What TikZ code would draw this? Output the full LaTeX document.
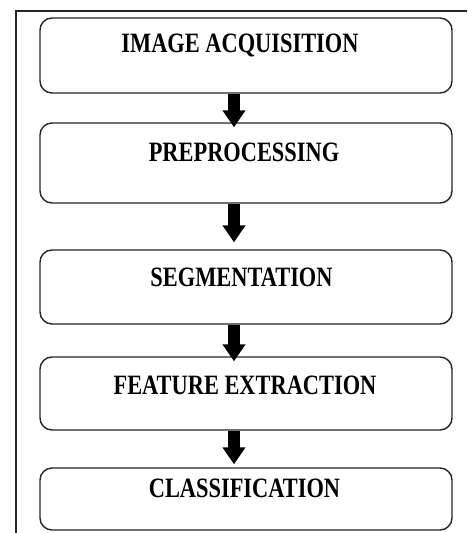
\documentclass[tikz,border=0pt]{standalone}
\usepackage{fontspec}
\usepackage{graphicx}
\setmainfont{Liberation Serif}
\usetikzlibrary{arrows.meta,calc}

\tikzset{
  frameline/.style={draw=black!85, line width=1.3pt},
  stagebox/.style={draw=black!85, line width=1.4pt, rounded corners=12pt,
    rectangle, minimum width=412pt, inner sep=0pt, fill=white},
  stagetext/.style={anchor=base, inner sep=0pt,
    font=\fontsize{28}{30}\selectfont\bfseries},
  flow/.style={line width=12pt, black,
    -{Triangle[width=22pt,length=17pt]}}
}
% squeeze the caps a little horizontally
\newcommand{\narrowcaps}[1]{\scalebox{0.8}[1]{#1}}

\begin{document}
\begin{tikzpicture}[x=1pt,y=-1pt]
\useasboundingbox (0,0) rectangle (467,533);

% open frame: top and left edges only
\draw[frameline] (467,11) -- (16,11) -- (16,533);

% stage boxes
\node[stagebox, minimum height=75pt] (b1) at (246,55.5) {};
\node[stagebox, minimum height=80pt] (b2) at (246,163) {};
\node[stagebox, minimum height=74pt] (b3) at (246,287) {};
\node[stagebox, minimum height=73pt] (b4) at (246,393.5) {};
\node[stagebox, minimum height=62pt] (b5) at (246,499) {};

% stage titles
\node[stagetext] (t1) at (240,52.3) {\narrowcaps{IMAGE ACQUISITION}};
\node[stagetext] (t2) at (244,161.8) {\narrowcaps{PREPROCESSING}};
\node[stagetext] (t3) at (241.5,286.3) {\narrowcaps{SEGMENTATION}};
\node[stagetext] (t4) at (245,394.3) {\narrowcaps{FEATURE EXTRACTION}};
\node[stagetext] (t5) at (244.5,497.3) {\narrowcaps{CLASSIFICATION}};

% column of the connecting arrows
\coordinate (ax) at (234,0);

\draw[flow] (b1.south -| ax) -- ($(b2.north -| ax)+(0,5)$);
\draw[flow] (b2.south -| ax) -- ($(b3.north -| ax)+(0,-7)$);
\draw[flow] (b3.south -| ax) -- ($(b4.north -| ax)+(0,5)$);
\draw[flow] (b4.south -| ax) -- ($(b5.north -| ax)+(0,-3)$);
\end{tikzpicture}
\end{document}
